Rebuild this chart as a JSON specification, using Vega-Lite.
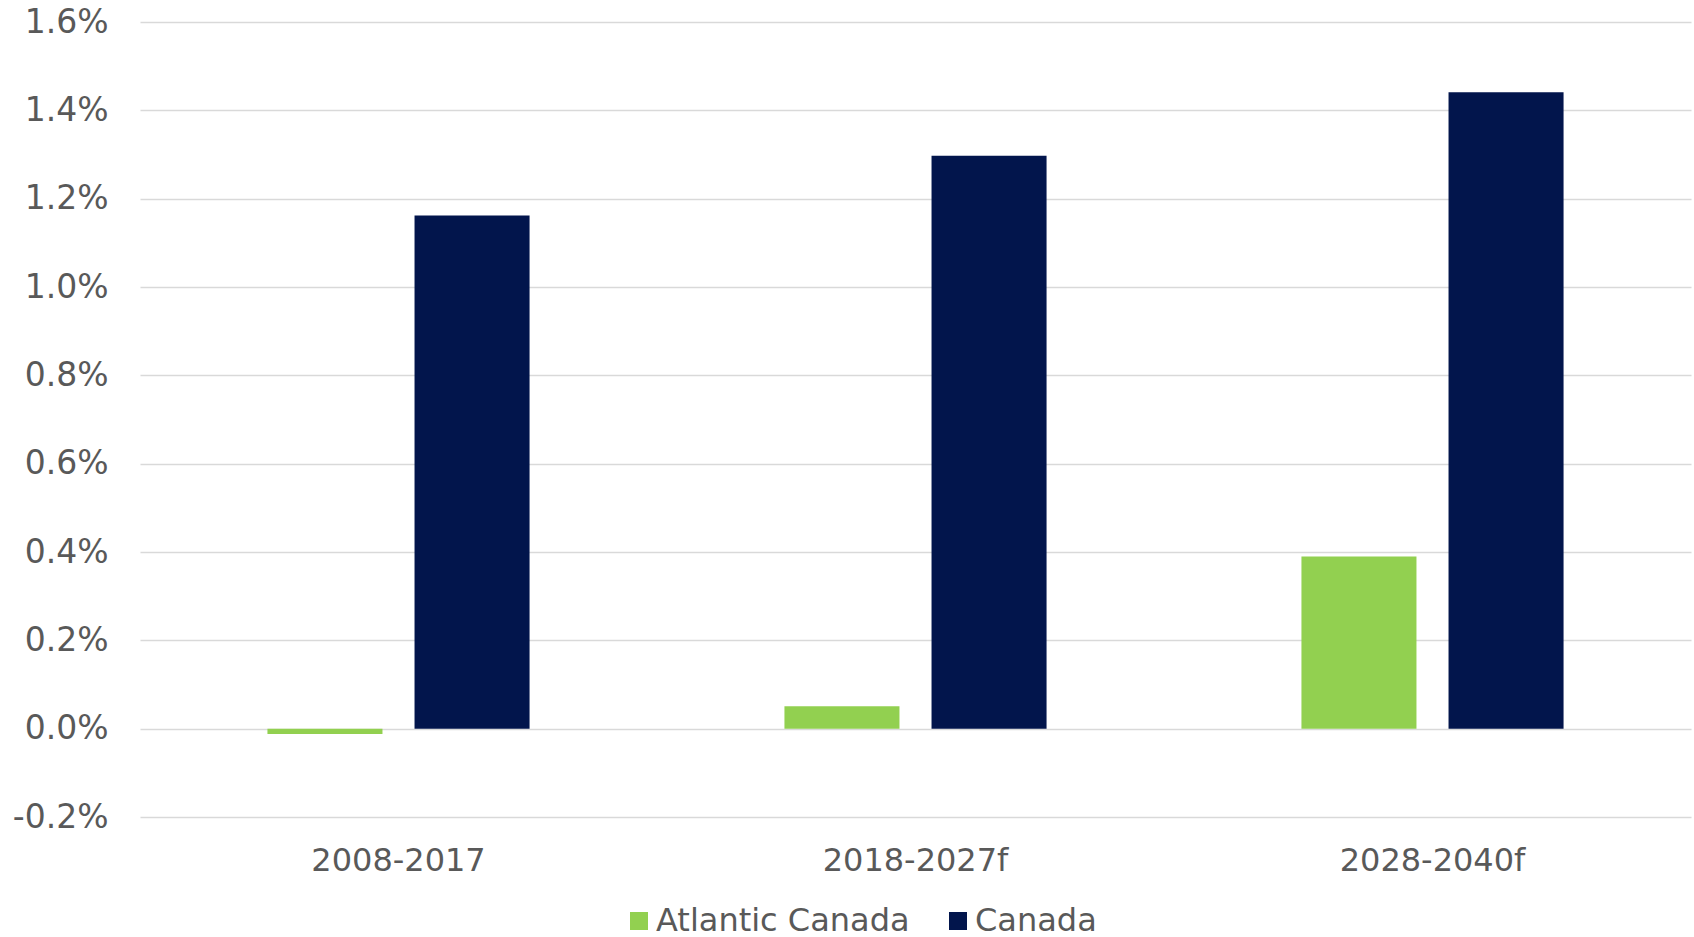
{
  "$schema": "https://vega.github.io/schema/vega-lite/v6.json",
  "autosize": "none",
  "width": 1551,
  "height": 795,
  "padding": {"left": 140, "top": 22, "right": 3, "bottom": 120},
  "background": "white",
  "config": {
    "view": {"stroke": null},
    "font": "DejaVu Sans",
    "axis": {"labelFont": "DejaVu Sans", "labelColor": "#595959", "labelFontSize": 32}
  },
  "data": {
    "values": [
      {"period": "2008-2017", "region": "Atlantic Canada", "growth": -0.00012},
      {"period": "2008-2017", "region": "Canada", "growth": 0.01162},
      {"period": "2018-2027f", "region": "Atlantic Canada", "growth": 0.000505},
      {"period": "2018-2027f", "region": "Canada", "growth": 0.01297},
      {"period": "2028-2040f", "region": "Atlantic Canada", "growth": 0.00390},
      {"period": "2028-2040f", "region": "Canada", "growth": 0.01441}
    ]
  },
  "mark": {"type": "bar"},
  "encoding": {
    "x": {
      "field": "period",
      "type": "nominal",
      "sort": ["2008-2017", "2018-2027f", "2028-2040f"],
      "scale": {"paddingInner": 0.493, "paddingOuter": 0.2465},
      "axis": {"title": null, "labelAngle": 0, "domain": false, "ticks": false, "grid": false, "labelPadding": 28, "labelLimit": 500}
    },
    "xOffset": {
      "field": "region",
      "type": "nominal",
      "sort": ["Atlantic Canada", "Canada"],
      "scale": {"paddingInner": 0.218, "paddingOuter": 0}
    },
    "y": {
      "field": "growth",
      "type": "quantitative",
      "scale": {"domain": [-0.002, 0.016], "nice": false, "zero": false},
      "axis": {
        "title": null,
        "format": ".1%",
        "labelExpr": "replace(format(datum.value, '.1%'), '\u2212', '-')",
        "values": [-0.002, 0, 0.002, 0.004, 0.006, 0.008, 0.01, 0.012, 0.014, 0.016],
        "domain": false,
        "ticks": false,
        "labelPadding": 32,
        "labelFontSize": 33,
        "gridColor": "#d9d9d9",
        "gridWidth": 1.5
      }
    },
    "color": {
      "field": "region",
      "type": "nominal",
      "sort": ["Atlantic Canada", "Canada"],
      "scale": {"domain": ["Atlantic Canada", "Canada"], "range": ["#92D050", "#02154C"]},
      "legend": {
        "title": null,
        "orient": "none",
        "direction": "horizontal",
        "legendX": 483,
        "legendY": 883,
        "padding": 0,
        "symbolType": "square",
        "symbolSize": 324,
        "symbolStrokeWidth": 0,
        "symbolOpacity": 1,
        "labelFont": "DejaVu Sans",
        "labelFontSize": 32,
        "labelColor": "#595959",
        "labelOffset": 1,
        "columnPadding": 32,
        "labelLimit": 400
      }
    }
  }
}
